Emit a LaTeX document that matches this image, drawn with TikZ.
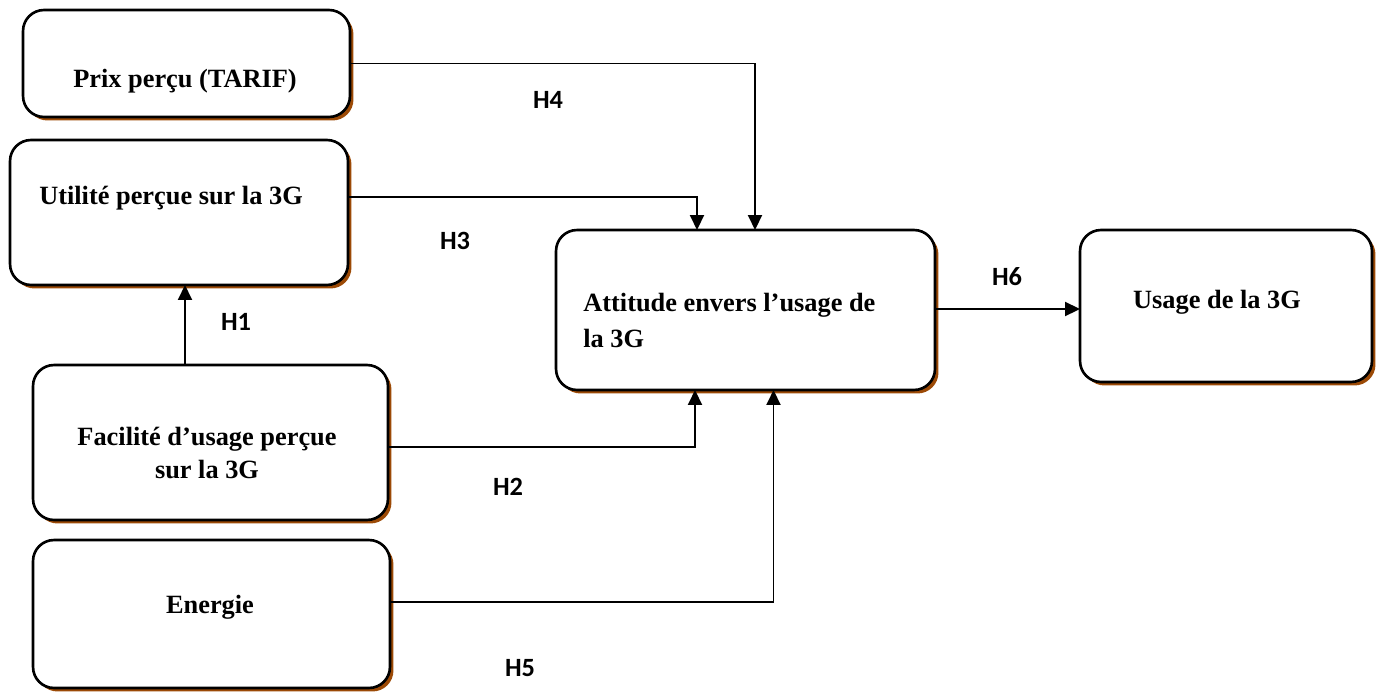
\documentclass[tikz,border=0pt]{standalone}
\usepackage{fontspec}
\setmainfont{Liberation Serif}
\newfontfamily\hfont{Carlito}
\usetikzlibrary{shadows,arrows.meta,calc}
\definecolor{shadowbrown}{HTML}{9C4A06}
\tikzset{
  box/.style={draw=black, line width=1.5pt, rounded corners=0.42cm, fill=white,
    inner sep=0pt, outer sep=0pt,
    drop shadow={shadow xshift=0.07cm, shadow yshift=-0.07cm, fill=shadowbrown, opacity=1}},
  boxtext/.style={font=\fontsize{15}{20.5}\selectfont\bfseries, inner sep=0pt, align=center},
  hlabel/.style={font=\fontsize{15}{18}\selectfont\hfont\bfseries, inner sep=0pt},
  conn/.style={line width=1.1pt},
  arr/.style={conn, -{Triangle[length=0.3cm,width=0.28cm]}}
}
\begin{document}
\begin{tikzpicture}[x=0.02cm, y=-0.02cm]
\useasboundingbox (0,0) rectangle (1378,693);
% boxes
\node[box, minimum width=6.54cm, minimum height=2.14cm] (prix) at (186.5,63.5) {};
\node[box, minimum width=6.76cm, minimum height=2.9cm] (util) at (179,212.5) {};
\node[box, minimum width=7.1cm, minimum height=3.1cm] (fac) at (210.5,442.5) {};
\node[box, minimum width=7.14cm, minimum height=2.96cm] (ener) at (211.5,614) {};
\node[box, minimum width=7.58cm, minimum height=3.2cm] (att) at (745.5,310) {};
\node[box, minimum width=5.84cm, minimum height=3.04cm] (usage) at (1226,306) {};
% texts
\node[boxtext] (tprix) at (185,81) {Prix perçu (TARIF)};
\node[boxtext] (tutil) at (171,198) {Utilité perçue sur la 3G};
\node[boxtext, font=\fontsize{15}{19}\selectfont\bfseries] (tfac) at (207,453) {Facilité d’usage perçue\\sur la 3G};
\node[boxtext] (tener) at (210,607) {Energie};
\node[boxtext, align=left, anchor=west] (tatt) at (583,320) {Attitude envers l’usage de\\la 3G};
\node[boxtext] (tusage) at (1217,302) {Usage de la 3G};
% labels
\node[hlabel] (h4) at (548,100) {H4};
\node[hlabel] (h3) at (455,241) {H3};
\node[hlabel] (h1) at (236,322) {H1};
\node[hlabel] (h6) at (1007,277) {H6};
\node[hlabel] (h2) at (508,487) {H2};
\node[hlabel] (h5) at (520,668) {H5};
% connector coordinates
\coordinate (a4) at ($(att.north)+(9.5,0)$);
\coordinate (a3) at ($(att.north)+(-48.5,0)$);
\coordinate (a2) at ($(att.south)+(-50.5,0)$);
\coordinate (a5) at ($(att.south)+(28,0)$);
\coordinate (u3) at ($(util.east)+(0,-15.5)$);
\coordinate (f2) at ($(fac.east)+(0,4.5)$);
\coordinate (e5) at ($(ener.east)+(0,-12)$);
\coordinate (f1) at ($(fac.north)+(-25.5,0)$);
% connectors
\draw[arr] (prix.east) -| (a4);
\draw[arr] (u3) -| (a3);
\draw[arr] (f2) -| (a2);
\draw[arr] (e5) -| (a5);
\draw[arr] (f1) -- (f1 |- util.south);
\draw[arr] (att.east |- 0,309) -- (usage.west |- 0,309);
\end{tikzpicture}
\end{document}
